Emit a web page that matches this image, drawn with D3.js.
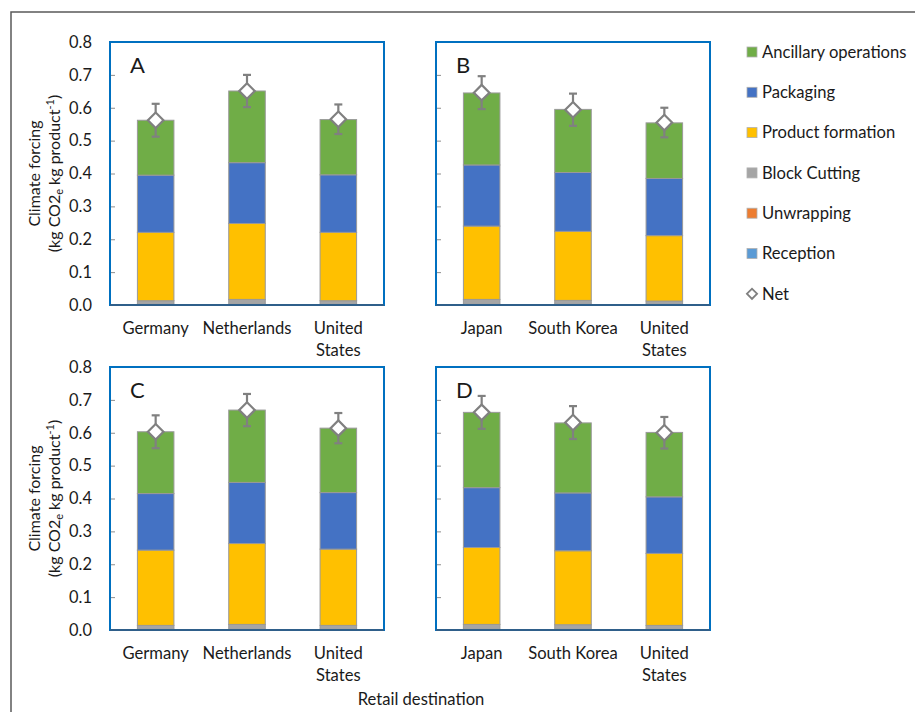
<!DOCTYPE html>
<html>
<head>
<meta charset="utf-8">
<script src="https://cdn.jsdelivr.net/npm/d3@7"></script>
<style>
  body { margin: 0; background: #fff; }
  text { font-family: Lato, "Noto Sans", sans-serif; fill: #1a1a1a; }
</style>
</head>
<body>
<div id="chart"></div>
<script>
// components, bottom of stack first
var components = ["Reception", "Unwrapping", "Block Cutting", "Product formation", "Packaging", "Ancillary operations"]
var legendOrder = ["Ancillary operations", "Packaging", "Product formation", "Block Cutting", "Unwrapping", "Reception"]
var colors = {
	"Ancillary operations": "#70ad47",
	"Packaging": "#4472c4",
	"Product formation": "#ffc000",
	"Block Cutting": "#a5a5a5",
	"Unwrapping": "#ed7d31",
	"Reception": "#5b9bd5"
}

var panels = ["A", "B", "C", "D"]
var destinations = [
	["Germany", "Netherlands", "United States"],
	["Japan", "South Korea", "United States"],
	["Germany", "Netherlands", "United States"],
	["Japan", "South Korea", "United States"]
]

// values per panel, one per destination (kg CO2e kg product-1)
var reception        = [[0.001, 0.001, 0.001], [0.001, 0.001, 0.001], [0.001, 0.001, 0.001], [0.001, 0.001, 0.001]]
var unwrapping       = [[0.001, 0.001, 0.001], [0.001, 0.001, 0.001], [0.001, 0.001, 0.001], [0.001, 0.001, 0.001]]
var blockCutting     = [[0.011, 0.015, 0.011], [0.015, 0.012, 0.010], [0.012, 0.015, 0.012], [0.015, 0.014, 0.012]]
var productFormation = [[0.208, 0.231, 0.208], [0.223, 0.210, 0.199], [0.229, 0.246, 0.232], [0.234, 0.225, 0.219]]
var packaging        = [[0.174, 0.185, 0.175], [0.186, 0.179, 0.174], [0.172, 0.186, 0.172], [0.182, 0.176, 0.172]]
var ancillary        = [[0.167, 0.218, 0.168], [0.219, 0.192, 0.169], [0.188, 0.220, 0.196], [0.229, 0.213, 0.196]]
var net              = [[0.562, 0.651, 0.565], [0.646, 0.594, 0.555], [0.603, 0.669, 0.614], [0.662, 0.631, 0.600]]
var netError         = [[0.050, 0.049, 0.045], [0.050, 0.049, 0.045], [0.050, 0.049, 0.046], [0.050, 0.050, 0.048]]

var yTicks = [0, 0.1, 0.2, 0.3, 0.4, 0.5, 0.6, 0.7, 0.8]

var seriesByName = {
	"Reception": reception,
	"Unwrapping": unwrapping,
	"Block Cutting": blockCutting,
	"Product formation": productFormation,
	"Packaging": packaging,
	"Ancillary operations": ancillary
}

var width = 915, height = 712
var svg = d3.select("#chart").append("svg")
	.attr("width", width)
	.attr("height", height)

// outer frame
svg.append("rect")
	.attr("x", 11).attr("y", 12)
	.attr("width", 940).attr("height", 740)
	.attr("fill", "none")
	.attr("stroke", "#595959")
	.attr("stroke-width", 1.5)

var panelW = 274, panelH = 263
var lefts = [110, 436], tops = [42, 367]
var fs = "16.6px"

panels.forEach(function(p, i) {
	var col = i % 2, row = Math.floor(i / 2)
	var g = svg.append("g").attr("transform", "translate(" + lefts[col] + "," + tops[row] + ")")

	var x = d3.scaleBand().domain(destinations[i]).range([0, panelW]).paddingInner(0.6).paddingOuter(0.3)
	var y = d3.scaleLinear().domain([0, 0.8]).range([panelH, 0])

	var rows = destinations[i].map(function(d, j) {
		var r = {dest: d}
		components.forEach(function(c) { r[c] = seriesByName[c][i][j] })
		return r
	})
	var stack = d3.stack().keys(components)(rows)

	// y axis, ticks inside
	var yAxis = d3.axisLeft(y).tickValues(yTicks).tickSizeInner(-5).tickSizeOuter(0).tickPadding(18)
		.tickFormat(col == 0 ? d3.format(".1f") : "")
	var ax = g.append("g").attr("class", "y axis").call(yAxis)
	ax.select(".domain").remove()
	ax.selectAll("line").attr("stroke", "#8c8c8c")
	ax.selectAll("text").style("font-size", "16.4px").attr("fill", "#1a1a1a")

	g.selectAll(".layer")
		.data(stack)
		.enter().append("g")
		.attr("class", "layer")
		.attr("fill", function(d) { return colors[d.key] })
		.selectAll("rect")
		.data(function(d) { return d })
		.enter().append("rect")
		.attr("x", function(d) { return x(d.data.dest) })
		.attr("y", function(d) { return y(d[1]) })
		.attr("width", x.bandwidth())
		.attr("height", function(d) { return Math.max(0, y(d[0]) - y(d[1])) })
		.attr("stroke", "#999999")
		.attr("stroke-width", 1)

	// error bars on net
	destinations[i].forEach(function(d, j) {
		var cx = x(d) + x.bandwidth() / 2
		var lo = net[i][j] - netError[i][j], hi = net[i][j] + netError[i][j]
		g.append("line").attr("x1", cx).attr("x2", cx).attr("y1", y(lo)).attr("y2", y(hi))
			.attr("stroke", "#808080").attr("stroke-width", 2.2)
		;[lo, hi].forEach(function(v) {
			g.append("line").attr("x1", cx - 4).attr("x2", cx + 4).attr("y1", y(v)).attr("y2", y(v))
				.attr("stroke", "#808080").attr("stroke-width", 2.2)
		})
		g.append("path")
			.attr("transform", "translate(" + cx + "," + y(net[i][j]) + ") rotate(45)")
			.attr("d", "M-5.5,-5.5H5.5V5.5H-5.5Z")
			.attr("fill", "#fff")
			.attr("stroke", "#808080")
			.attr("stroke-width", 2.2)

		// category labels
		var words = d == "United States" ? ["United", "States"] : [d]
		var t = g.append("text")
			.attr("x", cx)
			.attr("y", panelH + 29)
			.attr("text-anchor", "middle")
			.style("font-size", fs)
		words.forEach(function(w, k) {
			t.append("tspan").attr("x", cx).attr("dy", k == 0 ? 0 : 22).text(w)
		})
	})

	// panel border
	g.append("rect")
		.attr("width", panelW).attr("height", panelH)
		.attr("fill", "none")
		.attr("stroke", "#0070c0")
		.attr("stroke-width", 2)
	g.append("line")
		.attr("x1", 0).attr("x2", panelW).attr("y1", panelH).attr("y2", panelH)
		.attr("stroke", "#2f5f8a").attr("stroke-width", 2)

	g.append("text")
		.attr("x", 20).attr("y", 31)
		.style("font-size", "22px")
		.text(p)

	// y axis title on left panels
	if (col == 0) {
		var yt = g.append("text")
			.attr("transform", "translate(-70," + (panelH / 2) + ") rotate(-90)")
			.attr("text-anchor", "middle")
			.style("font-size", "16px")
		yt.append("tspan").attr("x", 0).attr("dy", 0).text("Climate forcing")
		var l2 = yt.append("tspan").attr("x", 0).attr("dy", 20).text("(kg CO2")
		l2.append("tspan").style("font-size", "11px").attr("dy", 3).text("e")
		l2.append("tspan").attr("dy", -3).text(" kg product")
		l2.append("tspan").style("font-size", "11px").attr("dy", -6).text("-1")
		l2.append("tspan").attr("dy", 6).text(")")
	}
})

svg.append("text")
	.attr("x", 421).attr("y", 705)
	.attr("text-anchor", "middle")
	.style("font-size", fs)
	.text("Retail destination")

// legend
var legend = svg.append("g").attr("transform", "translate(747,52)")
var items = legendOrder.concat(["Net"])
items.forEach(function(name, k) {
	var row = legend.append("g").attr("transform", "translate(0," + (k * 40.3) + ")")
	if (name == "Net") {
		row.append("path")
			.attr("transform", "translate(5,0) rotate(45)")
			.attr("d", "M-3.6,-3.6H3.6V3.6H-3.6Z")
			.attr("fill", "#fff").attr("stroke", "#808080").attr("stroke-width", 1.8)
	} else {
		row.append("rect")
			.attr("x", 0).attr("y", -5).attr("width", 10).attr("height", 10)
			.attr("fill", colors[name]).attr("stroke", "#b0b0b0").attr("stroke-width", 0.8)
	}
	row.append("text")
		.attr("x", 15).attr("dy", "0.35em")
		.style("font-size", fs)
		.text(name)
})
</script>
</body>
</html>
